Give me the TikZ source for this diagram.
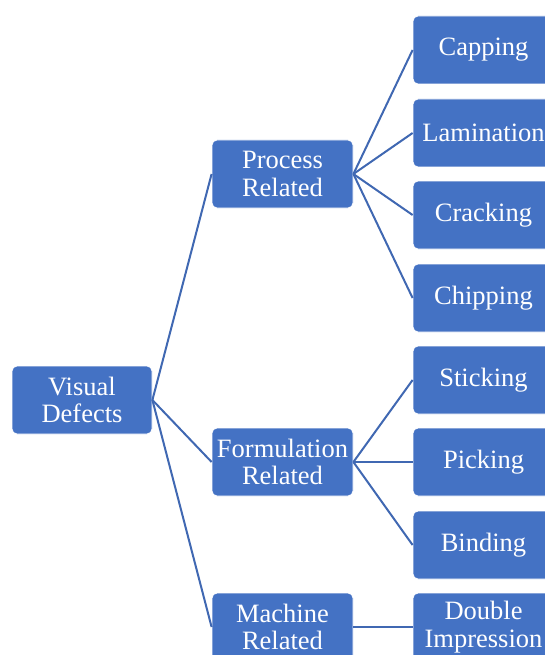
\documentclass[tikz,border=0pt]{standalone}
\usepackage{fontspec}
\setmainfont{Liberation Serif}
\definecolor{boxblue}{HTML}{4472C4}
\definecolor{linkblue}{HTML}{4068B2}
\begin{document}
\begin{tikzpicture}[x=1pt,y=-1pt,
  box/.style={draw=white,line width=0.8pt,fill=boxblue,rounded corners=5pt,
    minimum width=141pt,minimum height=68pt,inner sep=0pt,text=white,
    align=center,font=\fontsize{26.5}{27.5}\selectfont},
  link/.style={draw=linkblue,line width=2pt}]
\useasboundingbox (0,0) rectangle (544,655);
\node[box,minimum width=140pt] (vd) at (82,400) {Visual\\Defects};
\node[box] (pr) at (282.5,174) {Process\\Related};
\node[box] (fr) at (282.5,462) {Formulation\\Related};
\node[box] (mr) at (282.5,627) {Machine\\Related};
\node[box] (ca) at (483.5,50) {Capping};
\node[box] (la) at (483.5,133) {Lamination};
\node[box] (cr) at (483.5,215) {Cracking};
\node[box] (ch) at (483.5,298) {Chipping};
\node[box] (st) at (483.5,380) {Sticking};
\node[box] (pi) at (483.5,462) {Picking};
\node[box] (bi) at (483.5,545) {Binding};
\node[box] (di) at (483.5,627) {Double\\Impression};
\foreach \c in {pr,fr,mr} \draw[link] (vd.east) -- (\c.west);
\foreach \c in {ca,la,cr,ch} \draw[link] (pr.east) -- (\c.west);
\foreach \c in {st,pi,bi} \draw[link] (fr.east) -- (\c.west);
\draw[link] (mr.east) -- (di.west);
\end{tikzpicture}
\end{document}
